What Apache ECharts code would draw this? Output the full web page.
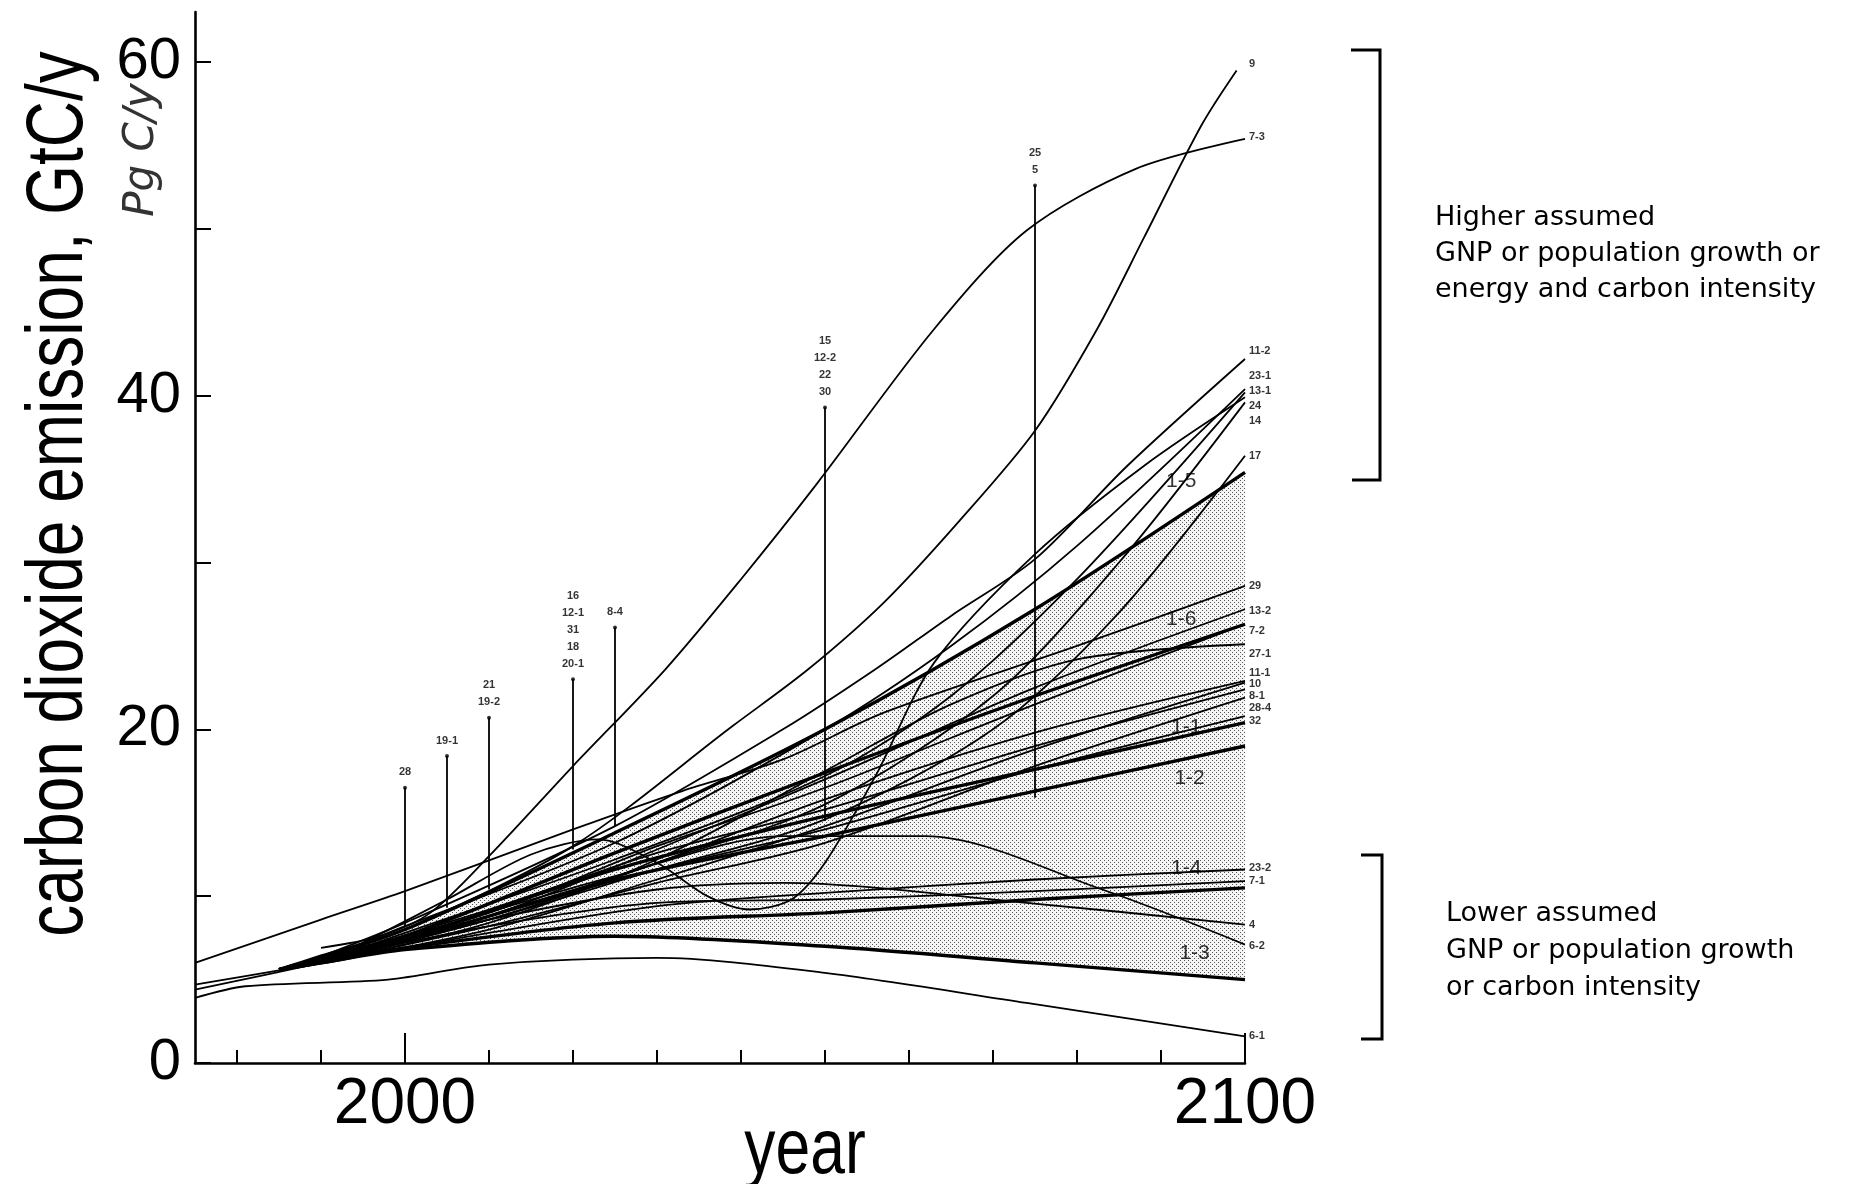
<!DOCTYPE html>
<html>
<head>
<meta charset="utf-8">
<title>CO2 emission scenarios</title>
<style>
  html, body { margin: 0; padding: 0; background: #fff; }
  #chart { width: 1867px; height: 1184px; }
</style>
<script src="https://cdn.jsdelivr.net/npm/echarts@6/dist/echarts.min.js"></script>
</head>
<body>
<div id="chart"></div>
<script>
// ---- IS92 reference scenarios (thick lines), GtC/y ----
const is92Years = [1985, 1990, 2000, 2025, 2050, 2075, 2100];
const is92a = [5.6, 6.1, 7.4, 11.6, 14.8, 17.6, 20.4];   // 1-1
const is92b = [5.6, 6.1, 7.3, 11.0, 13.6, 16.3, 19.0];   // 1-2
const is92c = [5.6, 6.0, 6.8, 7.6, 7.0, 6.0, 5.0];       // 1-3
const is92d = [5.6, 6.0, 6.9, 8.4, 9.0, 9.8, 10.5];      // 1-4
const is92e = [5.6, 6.4, 8.0, 13.8, 20.0, 27.2, 35.4];   // 1-5
const is92f = [5.6, 6.3, 7.6, 12.6, 17.4, 22.0, 26.3];   // 1-6
const is92Names = ['1-1', '1-2', '1-3', '1-4', '1-5', '1-6'];
const is92LabelYears = [2093, 2093.4, 2094, 2093, 2092.4, 2092.4];
const is92LabelValues = [20.1, 17.1, 6.6, 11.7, 34.9, 26.6];

// ---- other scenarios [year, GtC/y] ----
const s9 = [[1990,6.2],[2000,8.0],[2020,13.0],[2039,20.2],[2048,23.6],[2057,27.6],[2066,32.5],[2075,37.9],[2082.4,44.0],[2088,49.5],[2094.8,56.2],[2099,59.5]];
const s7_3 = [[1990,6.9],[1997,7.6],[2003,9.0],[2010,12.4],[2020,17.8],[2031,23.6],[2040,29.0],[2049,34.7],[2063,44.0],[2074,49.9],[2087,53.6],[2100,55.4]];
const s11_2 = [[1988,6.0],[2000,8.4],[2025,14.2],[2045,20.0],[2056,23.6],[2065,26.8],[2075,30.2],[2086,35.8],[2100,42.2]];
const s23_1 = [[1990,6.2],[2000,8.2],[2025,13.2],[2050,20.0],[2065,25.0],[2080,31.0],[2100,40.4]];
const s13_1 = [[1990,6.1],[2000,7.8],[2025,12.2],[2050,17.2],[2065,22.0],[2080,29.0],[2100,40.2]];
const s24 = [[1995,7.2],[2005,9.8],[2015,12.5],[2023,13.4],[2030,12.0],[2036,10.0],[2041,9.2],[2046,9.8],[2050,12.0],[2056,17.2],[2063,24.0],[2075,30.5],[2088,35.8],[2100,39.9]];
const s14 = [[1990,6.0],[2010,8.8],[2030,12.0],[2050,15.5],[2070,22.0],[2085,30.0],[2100,39.6]];
const s17 = [[1990,6.0],[2010,8.6],[2030,11.6],[2050,14.6],[2070,20.0],[2085,27.0],[2100,36.4]];
const s29 = [[1975,6.0],[1990,8.6],[2000,10.3],[2020,14.0],[2033,16.3],[2045,18.2],[2057,21.0],[2080,25.0],[2100,28.6]];
const s13_2 = [[1990,6.2],[2010,8.8],[2030,12.8],[2050,17.0],[2075,22.5],[2100,27.2]];
const s7_2 = [[1990,6.3],[2010,9.0],[2030,13.0],[2050,16.5],[2075,21.5],[2100,26.3]];
const s27_1 = [[1990,6.0],[2010,8.4],[2030,12.2],[2050,17.5],[2065,21.5],[2080,24.2],[2100,25.1]];
const s11_1 = [[1990,6.1],[2010,8.6],[2030,12.0],[2050,15.8],[2075,19.8],[2100,22.9]];
const s10 = [[1975,4.7],[1990,6.0],[2010,8.0],[2030,11.0],[2050,14.2],[2075,18.8],[2100,22.8]];
const s8_1 = [[1990,6.2],[2010,9.2],[2030,12.6],[2050,15.2],[2075,19.0],[2100,22.4]];
const s28_4 = [[1975,4.4],[1990,6.0],[2010,8.2],[2030,10.8],[2050,13.2],[2075,17.8],[2100,21.9]];
const s32 = [[1990,6.1],[2010,8.8],[2030,11.6],[2050,14.0],[2075,17.6],[2100,20.8]];
const s23_2 = [[1990,6.0],[2010,7.8],[2030,9.4],[2050,10.2],[2075,11.0],[2100,11.6]];
const s7_1 = [[1990,6.1],[2010,8.2],[2030,9.6],[2050,9.8],[2075,10.3],[2100,10.9]];
const s4 = [[1990,6.2],[2010,8.6],[2030,10.4],[2045,10.8],[2074,9.6],[2100,8.3]];
const s6_2 = [[1990,6.3],[2000,7.6],[2025,11.2],[2045,13.6],[2062,13.6],[2083,10.4],[2100,7.1]];
const s6_1 = [[1975,3.9],[1981,4.6],[1998,5.0],[2010,5.9],[2030,6.3],[2050,5.4],[2074,3.6],[2100,1.6]];

// ---- scenario labels at the right end ----
const endLabelNames = ['9','7-3','11-2','23-1','13-1','24','14','17','29','13-2','7-2','27-1','11-1','10','8-1','28-4','32','23-2','7-1','4','6-2','6-1'];
const endLabelValues = [59.9,55.5,42.7,41.2,40.3,39.4,38.5,36.4,28.6,27.1,25.9,24.5,23.4,22.7,22.0,21.3,20.5,11.7,10.9,8.3,7.0,1.6];

// ---- scenarios that stop early: drawn as vertical ranges ----
const barYears = [2000, 2005, 2010, 2020, 2025, 2050, 2075];
const barLow = [8.2, 9.3, 10.4, 12.8, 14.2, 14.5, 15.9];
const barHigh = [16.5, 18.4, 20.7, 23.0, 26.1, 39.3, 52.6];
const barNames = ['28', '19-1', '21\n19-2', '16\n12-1\n31\n18\n20-1', '8-4', '15\n12-2\n22\n30', '25\n5'];

const xTicks = [1980, 1990, 2000, 2010, 2020, 2030, 2040, 2050, 2060, 2070, 2080, 2090, 2100];
const xLabels = [2000, 2100];
const yTicks = [0, 10, 20, 30, 40, 50, 60];
const yLabels = [0, 20, 40, 60];

const SANS = "'Liberation Sans', Arial, sans-serif";
const SMOOTH = 0.3;

// stipple pattern for the IS92 range
const dots = document.createElement('canvas');
dots.width = 4; dots.height = 4;
const dctx = dots.getContext('2d');
dctx.fillStyle = '#555';
dctx.fillRect(0, 0, 1, 1);
dctx.fillRect(2, 2, 1, 1);

const zip = (xs, ys) => xs.map((x, i) => [x, ys[i]]);

const thinLine = (name, pts) => ({
    name: name, type: 'line', data: pts,
    smooth: SMOOTH, symbol: 'none', silent: true, z: 3,
    lineStyle: { color: '#000', width: 1.8 }
});
const thickLine = (name, vals) => ({
    name: name, type: 'line', data: zip(is92Years, vals),
    smooth: SMOOTH, symbol: 'none', silent: true, z: 4,
    lineStyle: { color: '#000', width: 3.4 }
});

const scenarioSeries = [
    ['9', s9], ['7-3', s7_3], ['11-2', s11_2], ['23-1', s23_1], ['13-1', s13_1],
    ['24', s24], ['14', s14], ['17', s17], ['29', s29], ['13-2', s13_2],
    ['7-2', s7_2], ['27-1', s27_1], ['11-1', s11_1], ['10', s10], ['8-1', s8_1],
    ['28-4', s28_4], ['32', s32], ['23-2', s23_2], ['7-1', s7_1], ['4', s4],
    ['6-2', s6_2], ['6-1', s6_1]
].map(p => thinLine(p[0], p[1]));

const is92Series = [is92a, is92b, is92c, is92d, is92e, is92f].map((v, i) => thickLine(is92Names[i], v));

// shaded IS92 range: fill below 1-5, then mask below 1-3 with white
const bandArea = (vals, color, z) => ({
    type: 'line', data: zip(is92Years, vals), smooth: SMOOTH,
    symbol: 'none', silent: true, z: z, lineStyle: { opacity: 0 },
    areaStyle: { color: color, opacity: 1, origin: 'start' }
});
const bandSeries = [
    bandArea(is92e, 'rgba(0,0,0,0.04)', 1),
    bandArea(is92e, { image: dots, repeat: 'repeat' }, 1.2),
    bandArea(is92c, '#ffffff', 1.4)
];

const barLines = {
    type: 'custom', silent: true, z: 3,
    data: barYears.map((y, i) => [y, barLow[i], barHigh[i]]),
    renderItem: (params, api) => {
        const p0 = api.coord([api.value(0), api.value(1)]);
        const p1 = api.coord([api.value(0), api.value(2)]);
        return {
            type: 'line',
            shape: { x1: p0[0], y1: p0[1], x2: p1[0], y2: p1[1] },
            style: { stroke: '#000', lineWidth: 1.8 }
        };
    }
};
const barTops = {
    type: 'scatter', silent: true, z: 5, symbol: 'circle', symbolSize: 4,
    itemStyle: { color: '#000' },
    data: barYears.map((y, i) => [y, barHigh[i]]),
    label: {
        show: true, position: 'top', distance: 5,
        formatter: p => barNames[p.dataIndex],
        fontSize: 11, fontWeight: 'bold', lineHeight: 17, color: '#000', fontFamily: SANS
    }
};
const endLabels = {
    type: 'scatter', silent: true, z: 5, symbolSize: 0,
    data: endLabelValues.map(v => [2100, v]),
    label: {
        show: true, position: 'right', distance: 4,
        formatter: p => endLabelNames[p.dataIndex],
        fontSize: 11, fontWeight: 'bold', color: '#000', fontFamily: SANS
    }
};
const is92Labels = {
    type: 'scatter', silent: true, z: 6, symbolSize: 0,
    data: is92LabelYears.map((y, i) => [y, is92LabelValues[i]]),
    label: {
        show: true, position: 'inside',
        formatter: p => is92Names[p.dataIndex],
        fontSize: 21, color: '#000', fontFamily: SANS
    }
};

const chart = echarts.init(document.getElementById('chart'), null, { renderer: 'canvas' });
chart.setOption({
    animation: false,
    backgroundColor: '#fff',
    grid: { left: 195, right: 622, top: 12, bottom: 121 },
    xAxis: [{
        type: 'value', min: 1975, max: 2100, z: 10,
        axisLine: { show: true, lineStyle: { color: '#000', width: 2.6 } },
        axisTick: { show: true, inside: true, length: 13, customValues: xTicks, lineStyle: { color: '#000', width: 2 } },
        axisLabel: { customValues: xLabels, formatter: v => String(v), margin: 10, color: '#000', fontSize: 64, fontFamily: SANS },
        splitLine: { show: false }
    }, {
        type: 'value', min: 1975, max: 2100, position: 'bottom', z: 10,
        axisLine: { show: false },
        axisTick: { show: true, inside: true, length: 30, customValues: xLabels, lineStyle: { color: '#000', width: 2 } },
        axisLabel: { show: false },
        splitLine: { show: false }
    }],
    yAxis: {
        type: 'value', min: 0, max: 63, z: 10,
        axisLine: { show: true, lineStyle: { color: '#000', width: 2.6 } },
        axisTick: { show: true, inside: true, length: 16, customValues: yTicks, lineStyle: { color: '#000', width: 2 } },
        axisLabel: { customValues: yLabels, margin: 14, color: '#000', fontSize: 58, fontFamily: SANS },
        splitLine: { show: false }
    },
    graphic: [
        {
            type: 'text', x: 60, y: 494, rotation: Math.PI / 2, scaleX: 0.8,
            style: { text: 'carbon dioxide emission, GtC/y', font: "80px " + SANS, fill: '#000', align: 'center', verticalAlign: 'middle' }
        },
        {
            type: 'text', x: 142, y: 150, rotation: Math.PI / 2,
            style: { text: 'Pg C/y', font: "italic 42px 'DejaVu Sans', sans-serif", fill: '#333', align: 'center', verticalAlign: 'middle' }
        },
        {
            type: 'text', x: 805, y: 1151, scaleX: 0.8,
            style: { text: 'year', font: "78px " + SANS, fill: '#000', align: 'center', verticalAlign: 'middle' }
        },
        {
            type: 'polyline', shape: { points: [[1351, 50], [1380, 50], [1380, 480], [1352, 480]] },
            style: { stroke: '#000', lineWidth: 3, fill: null }
        },
        {
            type: 'polyline', shape: { points: [[1361, 855], [1382, 855], [1382, 1039], [1361, 1039]] },
            style: { stroke: '#000', lineWidth: 3, fill: null }
        },
        {
            type: 'text', x: 1435, y: 200,
            style: { text: 'Higher assumed\nGNP or population growth or\nenergy and carbon intensity', font: "27px 'DejaVu Sans', sans-serif", lineHeight: 36, fill: '#000', verticalAlign: 'top' }
        },
        {
            type: 'text', x: 1446, y: 895,
            style: { text: 'Lower assumed\nGNP or population growth\nor carbon intensity', font: "27px 'DejaVu Sans', sans-serif", lineHeight: 37, fill: '#000', verticalAlign: 'top' }
        }
    ],
    series: bandSeries.concat(scenarioSeries, is92Series, [barLines, barTops, endLabels, is92Labels])
});
</script>
</body>
</html>
